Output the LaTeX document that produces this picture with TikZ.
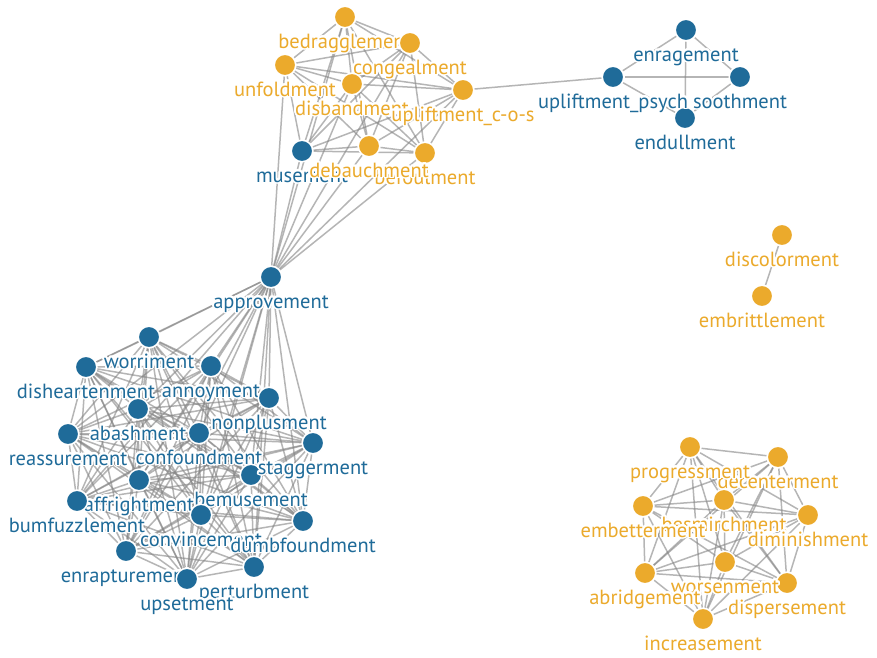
\documentclass[tikz,border=0pt]{standalone}
\usepackage{fontspec}
\setmainfont{PT Sans}
\usepackage{contour}
\contourlength{1.6pt}
\contournumber{32}
\definecolor{nblue}{HTML}{1F6B99}
\definecolor{norange}{HTML}{EBAA2C}
\definecolor{edgegray}{HTML}{858585}
\pgfdeclarelayer{canvas}
\pgfdeclarelayer{edges}
\pgfsetlayers{canvas,edges,main}
\tikzset{
  dot/.style={circle, draw=white, line width=1.5pt, minimum size=21.5pt, inner sep=0pt},
  lbl/.style={font=\fontsize{20.5}{20.5}\selectfont, inner sep=0pt, anchor=base},
  link/.style={draw=edgegray, line width=1.5pt, opacity=0.6},
}
% one graph vertex: dot plus its haloed label below it
\newcommand\gvertex[5]{%
  \node[dot, fill=#4] (#1) at (#2,#3) {};
  \node[lbl, text=#4] (#1-l) at (#2,#3+31) {\contour{white}{#5}};}
% every pair of vertices in a list gets a link
\newcommand\clique[1]{%
  \begin{pgfonlayer}{edges}
  \foreach \a [count=\i] in {#1} {
    \foreach \b [count=\j] in {#1} {
      \ifnum\j>\i \draw[link] (\a) -- (\b); \fi
    }
  }
  \end{pgfonlayer}}
\begin{document}
\begin{tikzpicture}[x=1pt,y=-1pt]
\begin{pgfonlayer}{canvas}
\fill[white] (0,0) rectangle (877,657);
\end{pgfonlayer}
\useasboundingbox (0,0) rectangle (877,657);

% upper cluster
\gvertex{bedraggle}{345}{17}{norange}{bedragglement}
\gvertex{congeal}{410}{43}{norange}{congealment}
\gvertex{unfold}{285}{65}{norange}{unfoldment}
\gvertex{disband}{352}{84}{norange}{disbandment}
\gvertex{upcos}{463}{90}{norange}{upliftment\_c-o-s}
\gvertex{muse}{302}{151}{nblue}{musement}
\gvertex{befoul}{425}{153}{norange}{befoulment}
\gvertex{debauch}{369}{146}{norange}{debauchment}

% four-vertex group at the top right
\gvertex{enrage}{686}{30}{nblue}{enragement}
\gvertex{endull}{685}{118}{nblue}{endullment}
\gvertex{soothe}{740}{77}{nblue}{soothment}
\gvertex{uppsych}{613}{77}{nblue}{upliftment\_psych}

% isolated pair
\gvertex{discolor}{782}{235}{norange}{discolorment}
\gvertex{embrittle}{762}{296}{norange}{embrittlement}

% hub
\gvertex{approve}{271}{277}{nblue}{approvement}

% lower left cluster
\gvertex{worri}{149}{337}{nblue}{worriment}
\gvertex{dishearten}{86}{367}{nblue}{disheartenment}
\gvertex{annoy}{211}{366}{nblue}{annoyment}
\gvertex{nonplus}{269}{398}{nblue}{nonplusment}
\gvertex{abash}{138}{409}{nblue}{abashment}
\gvertex{reassure}{68}{434}{nblue}{reassurement}
\gvertex{confound}{199}{433}{nblue}{confoundment}
\gvertex{affright}{139}{480}{nblue}{affrightment}
\gvertex{bemuse}{251}{475}{nblue}{bemusement}
\gvertex{stagger}{313}{443}{nblue}{staggerment}
\gvertex{bumfuzzle}{77}{501}{nblue}{bumfuzzlement}
\gvertex{convince}{201}{515}{nblue}{convincement}
\gvertex{dumbfound}{303}{521}{nblue}{dumbfoundment}
\gvertex{enrapture}{126}{551}{nblue}{enrapturement}
\gvertex{perturb}{254}{567}{nblue}{perturbment}
\gvertex{upset}{187}{579}{nblue}{upsetment}

% lower right cluster
\gvertex{decenter}{778}{457}{norange}{decenterment}
\gvertex{progress}{690}{447}{norange}{progressment}
\gvertex{besmirch}{724}{500}{norange}{besmirchment}
\gvertex{embetter}{643}{506}{norange}{embetterment}
\gvertex{diminish}{808}{515}{norange}{diminishment}
\gvertex{disperse}{787}{583}{norange}{dispersement}
\gvertex{worsen}{725}{562}{norange}{worsenment}
\gvertex{abridge}{645}{573}{norange}{abridgement}
\gvertex{increase}{703}{619}{norange}{increasement}

% links
\clique{bedraggle,congeal,unfold,disband,upcos,muse,befoul,debauch,approve}
\clique{approve,worri,dishearten,annoy,nonplus,abash,reassure,confound,affright,bemuse,stagger,bumfuzzle,convince,dumbfound,enrapture,perturb,upset}
\clique{enrage,endull,soothe,uppsych}
\clique{decenter,progress,besmirch,embetter,diminish,disperse,worsen,abridge,increase}
\begin{pgfonlayer}{edges}
\draw[link] (upcos) -- (uppsych);
\draw[link] (discolor) -- (embrittle);
\end{pgfonlayer}
\end{tikzpicture}
\end{document}
